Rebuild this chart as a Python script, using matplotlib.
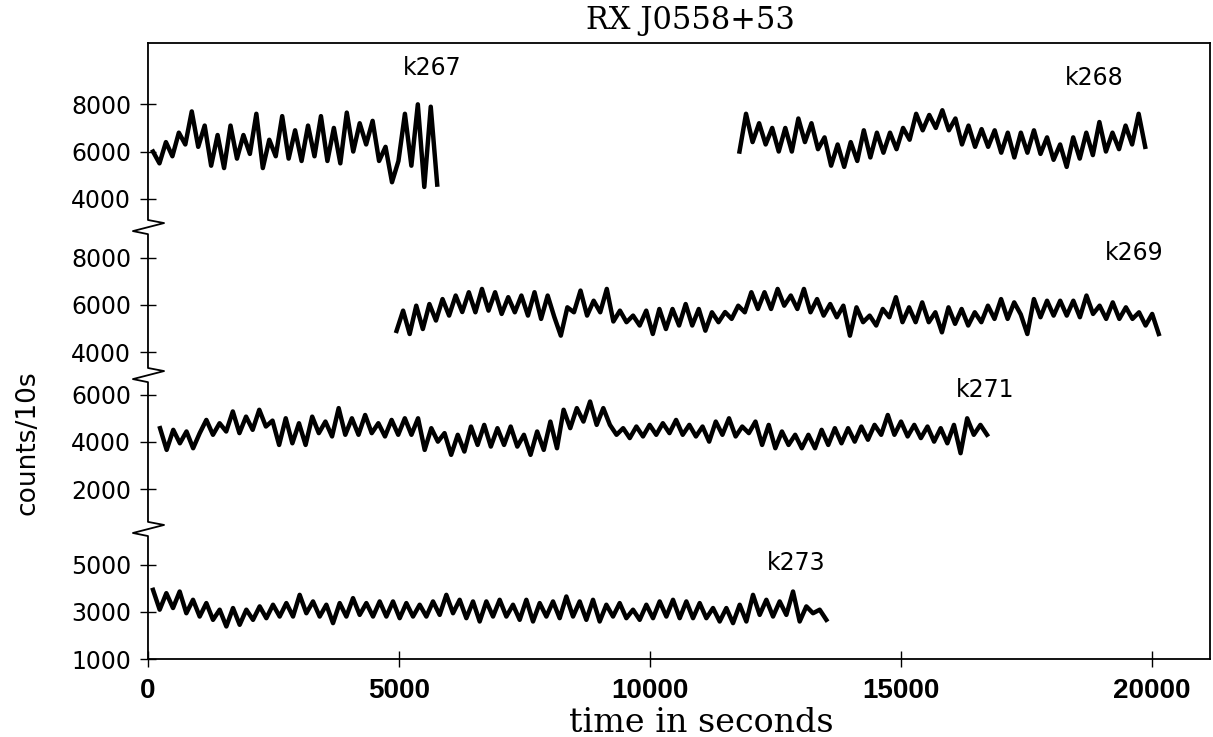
import numpy as np
from matplotlib import pyplot as plt

# RX J0558+53 light curves (counts per 10 s).
# Each curve: (first time, last time) in seconds, then the counts in order.
k267_time = (100, 5760)
k267_counts = [6000, 5500, 6400, 5800, 6800, 6300, 7700, 6200, 7100, 5400,
               6700, 5300, 7100, 5700, 6700, 5900, 7600, 5300, 6500, 5800,
               7500, 5700, 6900, 5600, 7100, 5800, 7500, 5600, 7000, 5500,
               7650, 6000, 7200, 6300, 7300, 5600, 6200, 4700, 5600, 7600,
               5400, 8000, 4500, 7900, 4600]

k268_time = (11780, 19860)
k268_counts = [6000, 7600, 6400, 7200, 6300, 7000, 6000, 7000, 6000, 7400,
               6400, 7200, 6100, 6600, 5400, 6300, 5350, 6400, 5600, 6900,
               5750, 6800, 5950, 6800, 6100, 7000, 6500, 7600, 6900, 7550,
               7000, 7750, 6900, 7400, 6300, 7100, 6200, 6950, 6200, 6900,
               5950, 6800, 5750, 6800, 5950, 6900, 5900, 6600, 5650, 6300,
               5350, 6600, 5700, 6800, 5850, 7250, 6000, 6800, 6100, 7100,
               6300, 7600, 6200]

k269_time = (4950, 20130)
k269_counts = [4900, 5760, 4770, 5970, 4980, 6040, 5340, 6250, 5550, 6400,
               5700, 6540, 5690, 6680, 5760, 6540, 5620, 6330, 5690, 6400,
               5550, 6540, 5410, 6400, 5500, 4700, 5900, 5690, 6610, 5550,
               6180, 5690, 6680, 5300, 5760, 5270, 5550, 5130, 5760, 4770,
               5830, 4980, 5830, 5130, 6040, 5130, 5830, 4910, 5690, 5270,
               5700, 5410, 5970, 5690, 6540, 5830, 6540, 5830, 6680, 5970,
               6400, 5830, 6680, 5690, 6250, 5550, 6040, 5480, 5970, 4700,
               5900, 5270, 5550, 5130, 5830, 5480, 6330, 5270, 5900, 5270,
               6110, 5270, 5690, 4840, 5900, 5200, 5830, 5130, 5690, 5270,
               5970, 5410, 6250, 5410, 6110, 5600, 4770, 6250, 5480, 6180,
               5550, 6180, 5550, 6180, 5480, 6400, 5620, 5970, 5410, 6110,
               5410, 5900, 5410, 5690, 5130, 5620, 4770]

k271_time = (240, 16710)
k271_counts = [4580, 3660, 4510, 3940, 4440, 3730, 4370, 4930, 4300, 4790,
               4440, 5290, 4370, 5070, 4510, 5360, 4650, 4900, 3870, 5000,
               3940, 4790, 3870, 5070, 4370, 4860, 4230, 5430, 4300, 5000,
               4300, 5140, 4370, 4790, 4230, 4930, 4300, 5000, 4300, 5000,
               3660, 4580, 4010, 4370, 3450, 4300, 3590, 4650, 3870, 4720,
               3800, 4580, 3870, 4650, 3800, 4300, 3450, 4440, 3660, 4860,
               3730, 5360, 4580, 5430, 4860, 5710, 4720, 5430, 4720, 4300,
               4580, 4160, 4650, 4230, 4720, 4300, 4790, 4370, 4930, 4300,
               4720, 4230, 4650, 4010, 4860, 4300, 5000, 4230, 4650, 4370,
               4860, 3870, 4720, 3730, 4440, 3870, 4300, 3730, 4300, 3730,
               4510, 3870, 4580, 3940, 4580, 4010, 4650, 4090, 4720, 4300,
               5140, 4300, 4860, 4230, 4720, 4160, 4650, 4010, 4580, 3940,
               4720, 3520, 5000, 4300, 4720, 4300]

k273_time = (100, 13510)
k273_counts = [3930, 3090, 3790, 3160, 3860, 2940, 3510, 2800, 3370, 2660,
               3090, 2380, 3160, 2450, 3090, 2660, 3230, 2730, 3300, 2800,
               3370, 2800, 3720, 2940, 3440, 2800, 3300, 2520, 3370, 2800,
               3580, 2870, 3370, 2800, 3440, 2800, 3440, 2730, 3370, 2800,
               3300, 2800, 3440, 2870, 3720, 2940, 3510, 2730, 3440, 2590,
               3440, 2800,
               3510, 2800, 3300, 2660, 3510, 2590, 3370, 2800, 3440, 2730,
               3650, 2800, 3440, 2660, 3510, 2590, 3300, 2800, 3370, 2730,
               3090, 2660, 3300, 2730, 3440, 2800, 3510, 2730, 3440, 2730,
               3370, 2730, 3160, 2590, 3160, 2520, 3300, 2590, 3720, 2870,
               3510, 2800, 3440, 2870, 3860, 2590, 3230, 2940, 3090, 2660]

# the stacked panels share one axis; each panel is shifted up by an offset
curves = [
    ('k267', k267_time, k267_counts, 16500),
    ('k268', k268_time, k268_counts, 16500),
    ('k269', k269_time, k269_counts, 10000),
    ('k271', k271_time, k271_counts, 6200),
    ('k273', k273_time, k273_counts, 0),
]
panel_ticks = [(16500, [4000, 6000, 8000]),
               (10000, [4000, 6000, 8000]),
               (6200, [2000, 4000, 6000]),
               (0, [1000, 3000, 5000])]
label_pos = {'k267': (5080, 9540), 'k268': (18270, 9120), 'k269': (19060, 8200),
             'k271': (16080, 6200), 'k273': (12330, 5070)}
breaks = [19300, 13030, 6510]
y_bottom, y_top = 1000, 27100

fig = plt.figure(figsize=(12.13, 7.37), dpi=100)
ax = fig.add_axes([0.122, 0.1058, 0.8755, 0.8359])

for name, (t0, t1), counts, offset in curves:
    t = np.linspace(t0, t1, len(counts))
    ax.plot(t, np.array(counts) + offset, color='black', lw=3.2)
    lx, ly = label_pos[name]
    ax.text(lx, ly + offset, name, fontsize=17, ha='left', va='center')

ticks, ticklabels = [], []
for offset, vals in panel_ticks:
    for v in vals:
        ticks.append(v + offset)
        ticklabels.append(str(v))
ax.set_yticks(ticks)
ax.set_yticklabels(ticklabels, fontsize=17)

ax.set_xticks([0, 5000, 10000, 15000, 20000])
ax.set_xticklabels(['0', '5000', '10000', '15000', '20000'],
                   fontsize=20, fontweight='bold', family='Liberation Sans')
ax.set_xlim(0, 21150)
ax.set_ylim(y_bottom, y_top)
ax.tick_params(axis='y', direction='inout', length=12, width=1, pad=6)
ax.tick_params(axis='x', direction='inout', length=12, width=1, pad=8)

# left spine with the axis-break zigzags
ax.spines['left'].set_visible(False)
for s in ['top', 'right', 'bottom']:
    ax.spines[s].set_linewidth(1.3)
sx, sy = [0], [y_top]
for yc in breaks:
    sx += [0, 320, -300, 0]
    sy += [yc + 300, yc + 170, yc - 170, yc - 300]
sx.append(0)
sy.append(y_bottom)
ax.plot(sx, sy, color='black', lw=1.3, clip_on=False)

ax.set_xlabel('time in seconds', fontsize=24, family='DejaVu Serif', va='center')
ax.xaxis.set_label_coords(0.521, -0.104)
ax.set_ylabel('counts/10s', fontsize=19, va='center')
ax.yaxis.set_label_coords(-0.113, 0.351)
ax.text(0.511, 1.037, 'RX J0558+53', transform=ax.transAxes, fontsize=22,
        family='DejaVu Serif', ha='center', va='center')

plt.savefig('out.png')
